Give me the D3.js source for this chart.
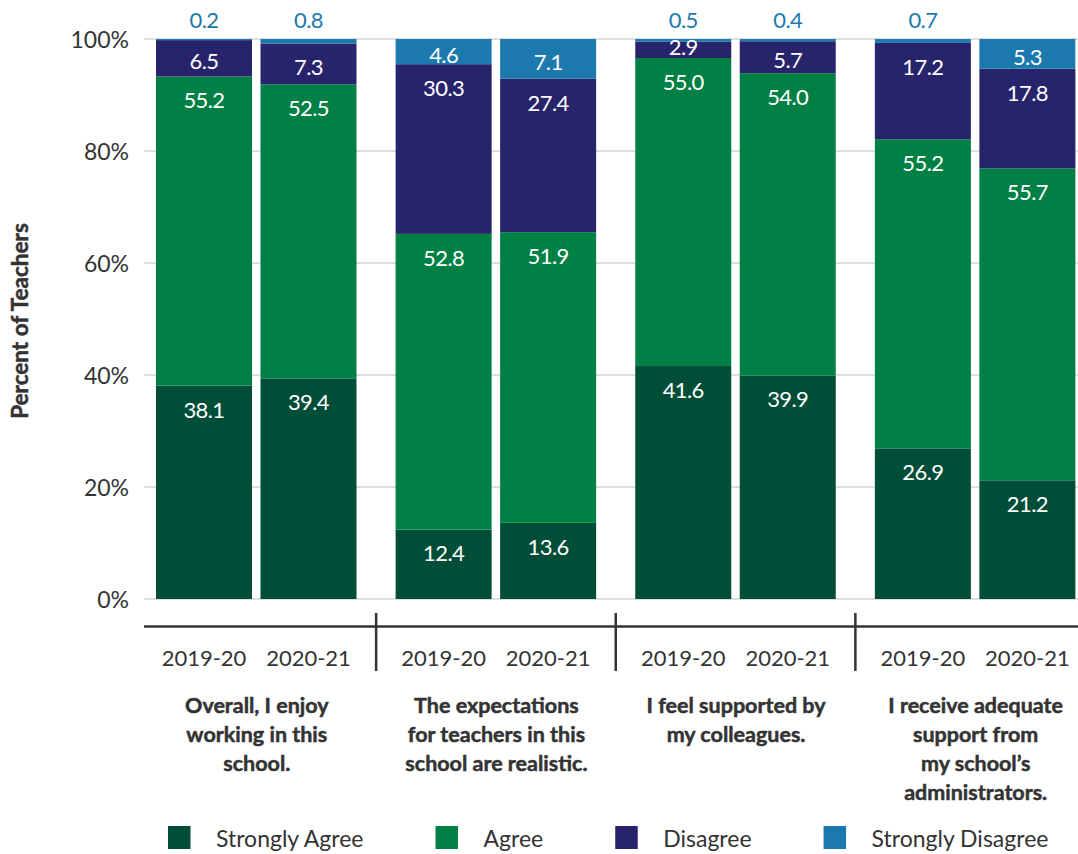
<!DOCTYPE html>
<html>
<head>
<meta charset="utf-8">
<script src="https://cdn.jsdelivr.net/npm/d3@7"></script>
<style>
  html, body { margin: 0; padding: 0; background: #fff; }
  svg { display: block; font-family: Lato, "Open Sans", sans-serif; }
</style>
</head>
<body>
<svg id="chart" width="1078" height="854"></svg>
<script>
// Survey statements (one group each), school years, and response categories
const statements = [
  ["Overall, I enjoy", "working in this", "school."],
  ["The expectations", "for teachers in this", "school are realistic."],
  ["I feel supported by", "my colleagues."],
  ["I receive adequate", "support from", "my school’s", "administrators."]
];
const years = ["2019-20", "2020-21"];
const responses = ["Strongly Agree", "Agree", "Disagree", "Strongly Disagree"];
const yTicks = [0, 20, 40, 60, 80, 100];

// Percent of teachers, ordered statement by statement, 2019-20 then 2020-21
const stronglyAgree    = [38.1, 39.4, 12.4, 13.6, 41.6, 39.9, 26.9, 21.2];
const agree            = [55.2, 52.5, 52.8, 51.9, 55.0, 54.0, 55.2, 55.7];
const disagree         = [6.5, 7.3, 30.3, 27.4, 2.9, 5.7, 17.2, 17.8];
const stronglyDisagree = [0.2, 0.8, 4.6, 7.1, 0.5, 0.4, 0.7, 5.3];

const colors = ["#004e37", "#008045", "#27246c", "#1c79ae"];
const textDark = "#333333";

const seriesValues = [stronglyAgree, agree, disagree, stronglyDisagree];

// Table of rows for d3.stack
const rows = [];
statements.forEach((s, g) => {
  years.forEach((yr, k) => {
    const i = g * years.length + k;
    const row = { group: g, year: yr };
    responses.forEach((r, j) => { row[r] = seriesValues[j][i]; });
    rows.push(row);
  });
});

const svg = d3.select("#chart");

const y = d3.scaleLinear().domain([0, 100]).range([599, 39]).clamp(true);
const xGroup = d3.scaleBand().domain(d3.range(statements.length)).range([136.5, 1095]).paddingInner(0);
const xYear = d3.scaleBand().domain(years).range([19.5, 220]).paddingInner(0.0813);

// Gridlines
svg.append("g")
  .selectAll("line")
  .data(yTicks)
  .join("line")
  .attr("x1", 144).attr("x2", 1078)
  .attr("y1", d => y(d)).attr("y2", d => y(d))
  .attr("stroke", "#d4d4d4").attr("stroke-width", 1.5);

// Y tick labels
svg.append("g")
  .selectAll("text")
  .data(yTicks)
  .join("text")
  .attr("x", 129)
  .attr("y", d => y(d) + 8.5)
  .attr("text-anchor", "end")
  .attr("font-size", 23)
  .attr("fill", textDark)
  .text(d => d + "%");

// Y axis title
svg.append("text")
  .attr("transform", "translate(28,321) rotate(-90)")
  .attr("text-anchor", "middle")
  .attr("font-size", 22.5)
  .attr("font-weight", 700)
  .attr("fill", textDark)
  .attr("stroke", textDark)
  .attr("stroke-width", 0.5)
  .text("Percent of Teachers");

// Stacked bars
const stacked = d3.stack().keys(responses)(rows);

const layers = svg.append("g")
  .selectAll("g")
  .data(stacked)
  .join("g")
  .attr("fill", (d, i) => colors[i]);

layers.selectAll("rect")
  .data(d => d)
  .join("rect")
  .attr("x", d => xGroup(d.data.group) + xYear(d.data.year))
  .attr("width", xYear.bandwidth())
  .attr("y", d => y(d[1]))
  .attr("height", d => y(d[0]) - y(d[1]));

// Value labels: white inside each segment, blue above the bar for tiny shares
const labelSize = 22;
const capHalf = labelSize * 0.36;
const labels = [];
stacked.forEach((layer, j) => {
  layer.forEach(d => {
    const v = d.data[layer.key];
    const cx = xGroup(d.data.group) + xYear(d.data.year) + xYear.bandwidth() / 2;
    const top = y(d[1]);
    const h = y(d[0]) - top;
    if (v < 1) {
      labels.push({ x: cx, cy: 20.5, text: v.toFixed(1), fill: colors[3] });
    } else {
      const off = h < 20 ? h / 2 - 2.5 : Math.min(h / 2 + 3, 24);
      labels.push({ x: cx, cy: top + off, text: v.toFixed(1), fill: "#ffffff" });
    }
  });
});

svg.append("g")
  .selectAll("text")
  .data(labels)
  .join("text")
  .attr("x", d => d.x)
  .attr("y", d => d.cy + capHalf)
  .attr("text-anchor", "middle")
  .attr("font-size", labelSize)
  .attr("letter-spacing", -0.6)
  .attr("fill", d => d.fill)
  .text(d => d.text);

// Category axis: baseline and group separators
svg.append("line")
  .attr("x1", 144).attr("x2", 1078)
  .attr("y1", 626.5).attr("y2", 626.5)
  .attr("stroke", textDark).attr("stroke-width", 2.5);

svg.append("g")
  .selectAll("line")
  .data(d3.range(1, statements.length))
  .join("line")
  .attr("x1", g => xGroup(g)).attr("x2", g => xGroup(g))
  .attr("y1", 613).attr("y2", 671)
  .attr("stroke", textDark).attr("stroke-width", 2.5);

// Year labels
const yearLabels = [];
statements.forEach((s, g) => years.forEach(yr => yearLabels.push({ g, yr })));
svg.append("g")
  .selectAll("text")
  .data(yearLabels)
  .join("text")
  .attr("x", d => xGroup(d.g) + xYear(d.yr) + xYear.bandwidth() / 2)
  .attr("y", 666)
  .attr("text-anchor", "middle")
  .attr("font-size", 22)
  .attr("fill", textDark)
  .text(d => d.yr);

// Statement labels
const stmt = svg.append("g")
  .selectAll("text")
  .data(statements)
  .join("text")
  .attr("text-anchor", "middle")
  .attr("font-size", 21.5)
  .attr("font-weight", 700)
  .attr("fill", textDark)
  .attr("stroke", textDark)
  .attr("stroke-width", 0.5);

stmt.selectAll("tspan")
  .data((d, g) => d.map((line, k) => ({ line, k, g })))
  .join("tspan")
  .attr("x", d => xGroup(d.g) + xGroup.bandwidth() / 2 + 0.5)
  .attr("y", d => 713 + d.k * 29)
  .text(d => d.line);

// Legend
const legend = svg.append("g");
let lx = 168;
responses.forEach((r, i) => {
  legend.append("rect")
    .attr("x", lx).attr("y", 826)
    .attr("width", 22.5).attr("height", 23)
    .attr("fill", colors[i]);
  const t = legend.append("text")
    .attr("x", lx + 48)
    .attr("y", 847)
    .attr("font-size", 23)
    .attr("fill", textDark)
    .text(r);
  lx += 48 + t.node().getComputedTextLength() + 72;
});
</script>
</body>
</html>
